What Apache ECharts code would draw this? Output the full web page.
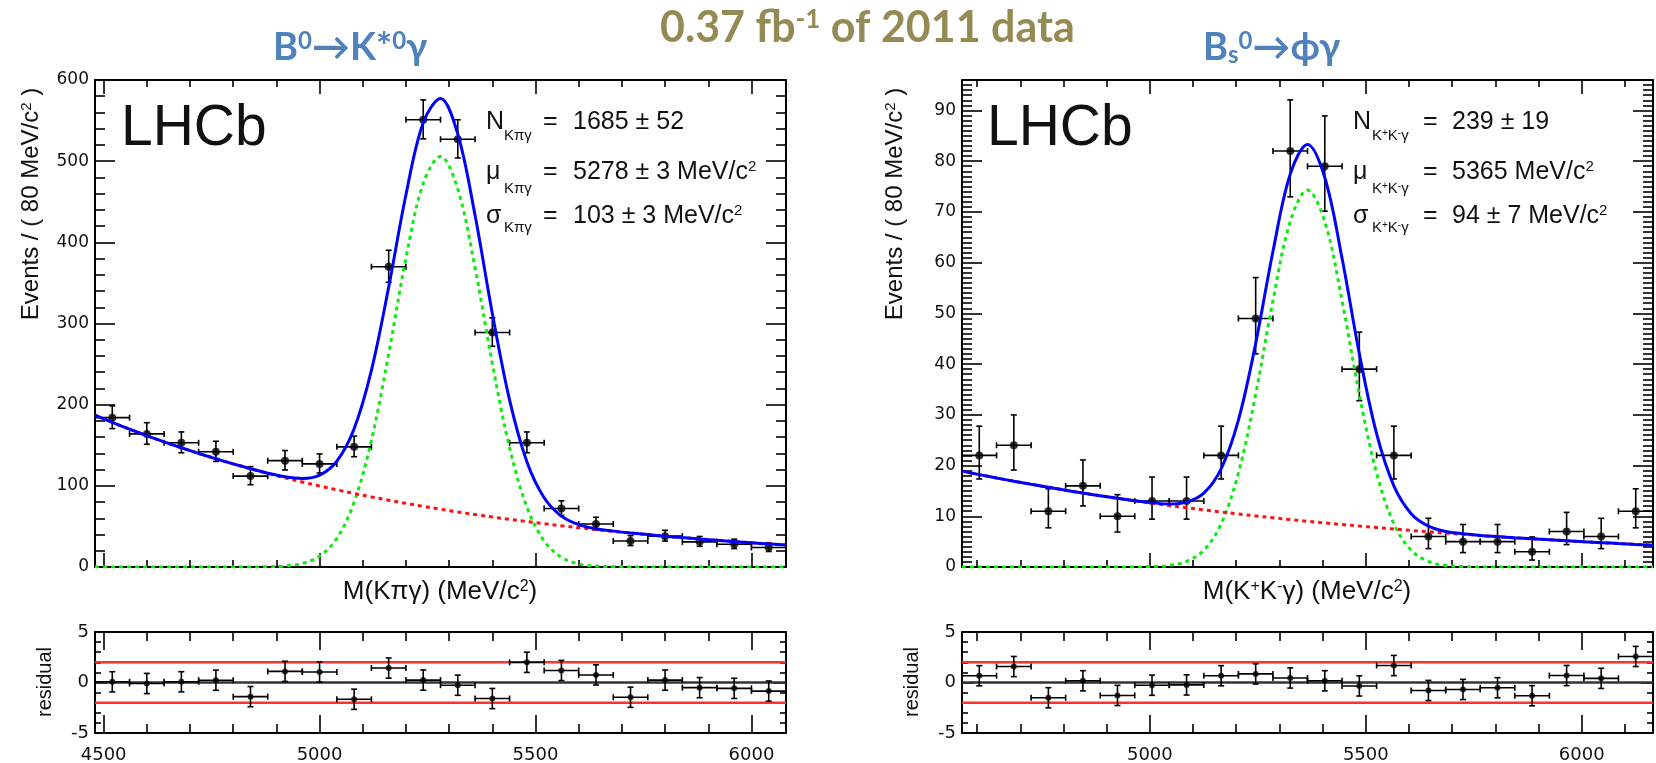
<!DOCTYPE html>
<html>
<head>
<meta charset="utf-8">
<script src="https://cdn.jsdelivr.net/npm/echarts@6/dist/echarts.min.js"></script>
<style>
html,body{margin:0;padding:0;background:#ffffff;}
#chart{width:1656px;height:763px;}
</style>
</head>
<body>
<div id="chart"></div>
<script>
// ---------------- DATA ----------------
// Left panel: B0 -> K*0 gamma, 80 MeV bins
const leftBinCenters = [4520,4600,4680,4760,4840,4920,5000,5080,5160,5240,5320,5400,5480,5560,5640,5720,5800,5880,5960,6040];
const leftCounts     = [184,164,153,142,112,131,127,148,370,551,527,289,153,72,53,32,38,31,28,24];
const leftErrLow     = [13.5,12.8,12.3,11.9,10.6,11.4,11.2,12.1,19.2,23.5,23.0,17.0,12.3,8.5,7.3,5.6,6.1,5.5,5.3,4.9];
const leftErrHigh    = [14.6,13.8,13.4,12.9,11.6,12.5,12.3,13.2,20.2,24.5,24.0,18.0,13.4,9.5,8.3,6.7,7.2,6.6,6.3,5.9];
const leftResiduals  = [0.07,-0.10,0.07,0.23,-1.40,1.10,1.04,-1.66,1.43,0.24,-0.27,-1.59,2.00,1.19,0.75,-1.46,0.24,-0.51,-0.58,-0.85];

const leftCurveX = [4480,4520,4560,4600,4640,4680,4720,4760,4800,4840,4880,4920,4960,5000,5040,5080,5120,5160,5200,5240,5280,5320,5360,5400,5440,5480,5520,5560,5600,5640,5680,5720,5760,5800,5840,5880,5920,5960,6000,6040,6080];
const leftTotalFit = [187.0,178.2,169.8,161.8,154.1,146.9,139.9,133.3,127.1,121.2,115.6,111.1,109.0,113.1,130.3,170.3,242.3,344.8,458.7,547.4,577.1,533.4,433.3,312.4,205.6,129.8,85.4,62.7,52.2,47.2,44.2,41.9,39.9,38.0,36.2,34.5,32.9,31.3,29.8,28.4,27.1];
const leftSignal   = [0,0,0,0,0,0,0,0,0,0.1,0.3,1.2,4.3,13.3,35.2,79.7,156.0,262.5,380.3,472.7,505.9,465.6,368.7,250.8,146.9,73.9,32.1,11.9,3.8,1.1,0.3,0.1,0,0,0,0,0,0,0,0,0];
const leftBackground = [187.0,178.2,169.8,161.8,154.1,146.9,139.9,133.3,127.1,121.1,115.3,109.9,104.7,99.8,95.1,90.6,86.3,82.3,78.4,74.7,71.2,67.8,64.6,61.6,58.7,55.9,53.3,50.8,48.4,46.1,43.9,41.8,39.9,38.0,36.2,34.5,32.9,31.3,29.8,28.4,27.1];

// Right panel: Bs0 -> phi gamma, 80 MeV bins
const rightBinCenters = [4605,4685,4765,4845,4925,5005,5085,5165,5245,5325,5405,5485,5565,5645,5725,5805,5885,5965,6045,6125];
const rightCounts     = [22,24,11,16,10,13,13,22,49,82,79,39,22,6,5,5,3,7,6,11];
const rightErrLow     = [4.65,4.88,3.28,3.96,3.11,3.56,3.56,4.65,6.98,9.03,8.86,6.22,4.65,2.38,2.16,2.16,1.63,2.58,2.38,3.28];
const rightErrHigh    = [5.76,5.98,4.42,5.10,4.26,4.73,4.73,5.76,8.05,10.08,9.92,7.30,5.76,3.60,3.38,3.38,2.92,3.77,3.60,4.42];
const rightResiduals  = [0.67,1.58,-1.51,0.17,-1.28,-0.27,-0.24,0.67,0.85,0.45,0.17,-0.34,1.68,-0.79,-0.69,-0.52,-1.31,0.69,0.41,2.58];

const rightCurveX = [4565,4605,4645,4685,4725,4765,4805,4845,4885,4925,4965,5005,5045,5085,5125,5165,5205,5245,5285,5325,5365,5405,5445,5485,5525,5565,5605,5645,5685,5725,5765,5805,5845,5885,5925,5965,6005,6045,6085,6125,6165];
const rightTotalFit = [18.90,18.21,17.55,16.91,16.30,15.71,15.13,14.58,14.05,13.54,13.05,12.68,12.42,12.78,14.55,19.34,28.95,44.07,62.20,77.45,83.31,76.78,60.87,42.06,26.27,15.99,10.51,8.05,7.00,6.55,6.22,5.99,5.77,5.56,5.36,5.17,4.98,4.80,4.62,4.45,4.29];
const rightSignal   = [0,0,0,0,0,0,0,0,0,0,0,0.1,0.3,1.1,3.3,8.5,18.5,34.0,52.5,68.1,74.3,68.1,52.5,34.0,18.5,8.5,3.3,1.1,0.3,0.1,0,0,0,0,0,0,0,0,0,0,0];
const rightBackground = [18.90,18.21,17.55,16.91,16.30,15.71,15.13,14.58,14.05,13.54,13.05,12.58,12.12,11.68,11.25,10.84,10.45,10.07,9.70,9.35,9.01,8.68,8.37,8.06,7.77,7.49,7.21,6.95,6.70,6.45,6.22,5.99,5.77,5.56,5.36,5.17,4.98,4.80,4.62,4.45,4.29];

// axis ranges and tick labels
const leftMassRange  = [4480, 6080];
const rightMassRange = [4565, 6165];
const massTickLabels = [4500, 5000, 5500, 6000];
const leftCountTicks  = [0,100,200,300,400,500,600];
const rightCountTicks = [0,10,20,30,40,50,60,70,80,90];
const pullTicks = [-5, 0, 5];
const pullBandLevels = [2, -2];
const pullZeroLevel = 0;
const binHalfWidth = 40;   // half of the 80 MeV bin
const pullError = 1;       // residuals are in units of sigma

// ---------------- helpers ----------------
const TICK_FONT = '"DejaVu Sans", sans-serif';
const ROOT_FONT = '"Liberation Sans", Arial, sans-serif';
const zip = (xs, ys) => xs.map((x, i) => [x, ys[i]]);

function massAxis(gridIndex, range, position, showLabels, tickLen, minorLen) {
  return {
    type: 'value', gridIndex, position, min: range[0], max: range[1],
    splitNumber: 3, minInterval: 500, maxInterval: 500,
    axisLine: { show: true, onZero: false, lineStyle: { color: '#000', width: 2 } },
    axisTick: { show: true, inside: true, length: tickLen, lineStyle: { color: '#000', width: 1.6 } },
    minorTick: { show: true, splitNumber: 5, length: minorLen, lineStyle: { color: '#000', width: 1.6 } },
    splitLine: { show: false }, minorSplitLine: { show: false },
    axisLabel: { show: showLabels, margin: 13, fontFamily: TICK_FONT, fontSize: 18, color: '#111',
      formatter: v => massTickLabels.includes(v) ? String(v) : '' }
  };
}
function countAxis(gridIndex, min, max, interval, minorSplit, position, showLabels, labels, tickLen, minorLen, fontSize) {
  return {
    type: 'value', gridIndex, position, min, max, interval,
    axisLine: { show: true, onZero: false, lineStyle: { color: '#000', width: 2 } },
    axisTick: { show: true, inside: true, length: tickLen, lineStyle: { color: '#000', width: 1.6 } },
    minorTick: { show: true, splitNumber: minorSplit, length: minorLen, lineStyle: { color: '#000', width: 1.6 } },
    splitLine: { show: false }, minorSplitLine: { show: false },
    axisLabel: { show: showLabels, margin: 6, fontFamily: TICK_FONT, fontSize: fontSize, color: '#111',
      formatter: v => labels.includes(v) ? String(v) : '' }
  };
}
function errorBars(xIdx, yIdx, xs, ys, lows, highs, cap, lw) {
  return {
    type: 'custom', xAxisIndex: xIdx, yAxisIndex: yIdx, z: 2, silent: true,
    data: xs.map((x, i) => [x, ys[i], lows[i], highs[i]]),
    encode: { x: 0, y: 1 },
    renderItem: (params, api) => {
      const x = api.value(0), y = api.value(1), lo = api.value(2), hi = api.value(3);
      const c = api.coord([x, y]);
      const t = api.coord([x, y + hi]);
      const b = api.coord([x, y - lo]);
      const l = api.coord([x - binHalfWidth, y]);
      const r = api.coord([x + binHalfWidth, y]);
      const st = { stroke: '#000', lineWidth: lw };
      return { type: 'group', children: [
        { type: 'line', shape: { x1: c[0], y1: t[1], x2: c[0], y2: b[1] }, style: st },
        { type: 'line', shape: { x1: c[0] - cap, y1: t[1], x2: c[0] + cap, y2: t[1] }, style: st },
        { type: 'line', shape: { x1: c[0] - cap, y1: b[1], x2: c[0] + cap, y2: b[1] }, style: st },
        { type: 'line', shape: { x1: l[0], y1: c[1], x2: r[0], y2: c[1] }, style: st },
        { type: 'line', shape: { x1: l[0], y1: c[1] - cap, x2: l[0], y2: c[1] + cap }, style: st },
        { type: 'line', shape: { x1: r[0], y1: c[1] - cap, x2: r[0], y2: c[1] + cap }, style: st }
      ]};
    }
  };
}
function points(xIdx, yIdx, xs, ys, size) {
  return { type: 'scatter', xAxisIndex: xIdx, yAxisIndex: yIdx, z: 3, silent: true,
    data: zip(xs, ys), symbol: 'circle', symbolSize: size, itemStyle: { color: '#000' } };
}
function curve(xIdx, yIdx, xs, ys, color, dash, z) {
  return { type: 'line', xAxisIndex: xIdx, yAxisIndex: yIdx, z: z, silent: true,
    data: zip(xs, ys), showSymbol: false, smooth: 0.35, clip: true,
    lineStyle: { color: color, width: 3, type: dash } };
}
function hline(xIdx, yIdx, range, level, color, width) {
  return { type: 'line', xAxisIndex: xIdx, yAxisIndex: yIdx, z: 1, silent: true,
    data: [[range[0], level], [range[1], level]], showSymbol: false,
    lineStyle: { color: color, width: width } };
}

// ---------------- text helpers ----------------
function txt(x, y, text, font, extra) {
  return Object.assign({ type: 'text', x: x, y: y, silent: true,
    style: Object.assign({ text: text, font: font, fill: '#111', align: 'left', verticalAlign: 'middle' }, (extra && extra.style) || {}) },
    extra && extra.rotation ? { rotation: extra.rotation } : {});
}
function supRich(size, family, weight, color) {
  const f = (weight ? weight + ' ' : '') + size + 'px ' + family;
  return {
    sup: { font: f, fill: color, color: color, verticalAlign: 'top', lineHeight: size },
    sub: { font: f, fill: color, color: color, verticalAlign: 'bottom', lineHeight: size }
  };
}
const TITLE_FONT = 'Lato, "DejaVu Sans", sans-serif';
const blue = '#4F81BD';
const olive = '#948A54';

const graphics = [
  // page titles
  txt(273, 48, 'B{sup|0}→K*{sup|0}γ', 'bold 38px ' + TITLE_FONT,
      { style: { fill: blue, rich: supRich(24, TITLE_FONT, 'bold', blue) } }),
  txt(660, 28, '0.37 fb{sup|-1} of 2011 data', 'bold 43px ' + TITLE_FONT,
      { style: { fill: olive, rich: supRich(26, TITLE_FONT, 'bold', olive) } }),
  txt(1203, 48, 'B{sub|s}{sup|0}→ϕγ', 'bold 38px ' + TITLE_FONT,
      { style: { fill: blue, rich: supRich(24, TITLE_FONT, 'bold', blue) } }),
  // LHCb labels
  txt(121, 129, 'LHCb', '57px ' + ROOT_FONT),
  txt(987, 129, 'LHCb', '57px ' + ROOT_FONT),
  // y-axis titles
  txt(31, 204, 'Events / ( 80 MeV/c{sup|2} )', '24px ' + ROOT_FONT,
      { rotation: Math.PI / 2, style: { align: 'center', rich: supRich(15, ROOT_FONT, '', '#111') } }),
  txt(895, 204, 'Events / ( 80 MeV/c{sup|2} )', '24px ' + ROOT_FONT,
      { rotation: Math.PI / 2, style: { align: 'center', rich: supRich(15, ROOT_FONT, '', '#111') } }),
  // x-axis titles
  txt(440, 592, 'M(Kπγ) (MeV/c{sup|2})', '26px ' + ROOT_FONT,
      { style: { align: 'center', rich: supRich(16, ROOT_FONT, '', '#111') } }),
  txt(1307, 592, 'M(K{sup|+}K{sup|-}γ) (MeV/c{sup|2})', '26px ' + ROOT_FONT,
      { style: { align: 'center', rich: supRich(16, ROOT_FONT, '', '#111') } }),
  // residual labels
  txt(45, 682, 'residual', '20px ' + ROOT_FONT, { rotation: Math.PI / 2, style: { align: 'center' } }),
  txt(912, 682, 'residual', '20px ' + ROOT_FONT, { rotation: Math.PI / 2, style: { align: 'center' } })
];

// fit-parameter boxes
function paramRows(xSym, xSub, xEq, xVal, subText, values) {
  const syms = ['N', 'μ', 'σ'];
  const yMain = [122, 172, 216];
  const ySub = [136, 189, 228];
  const out = [];
  for (let i = 0; i < 3; i++) {
    out.push(txt(xSym, yMain[i], syms[i], '25px ' + ROOT_FONT));
    out.push(txt(xSub, ySub[i], subText, '15px ' + ROOT_FONT, { style: { rich: supRich(10, ROOT_FONT, '', '#111') } }));
    out.push(txt(xEq, yMain[i], '=', '25px ' + ROOT_FONT));
    out.push(txt(xVal, yMain[i], values[i], '25px ' + ROOT_FONT, { style: { rich: supRich(15, ROOT_FONT, '', '#111') } }));
  }
  return out;
}
const leftParams  = ['1685 ± 52', '5278 ± 3 MeV/c{sup|2}', '103 ± 3 MeV/c{sup|2}'];
const rightParams = ['239 ± 19', '5365 MeV/c{sup|2}', '94 ± 7 MeV/c{sup|2}'];
graphics.push(...paramRows(486, 504, 543, 573, 'Kπγ', leftParams));
graphics.push(...paramRows(1353, 1372, 1423, 1452, 'K{sup|+}K{sup|-}γ', rightParams));

// ---------------- chart ----------------
const chart = echarts.init(document.getElementById('chart'), null, { renderer: 'canvas' });
const option = {
  animation: false,
  backgroundColor: '#ffffff',
  grid: [
    { left: 95,  top: 80,  width: 691, height: 487, containLabel: false, outerBoundsMode: 'none' },
    { left: 962, top: 80,  width: 691, height: 487, containLabel: false, outerBoundsMode: 'none' },
    { left: 95,  top: 632, width: 691, height: 101, containLabel: false, outerBoundsMode: 'none' },
    { left: 962, top: 632, width: 691, height: 101, containLabel: false, outerBoundsMode: 'none' }
  ],
  xAxis: [
    massAxis(0, leftMassRange, 'bottom', false, 14, 7),
    massAxis(0, leftMassRange, 'top', false, 14, 7),
    massAxis(1, rightMassRange, 'bottom', false, 14, 7),
    massAxis(1, rightMassRange, 'top', false, 14, 7),
    massAxis(2, leftMassRange, 'bottom', true, 18, 9),
    massAxis(2, leftMassRange, 'top', false, 18, 9),
    massAxis(3, rightMassRange, 'bottom', true, 18, 9),
    massAxis(3, rightMassRange, 'top', false, 18, 9)
  ],
  yAxis: [
    countAxis(0, 0, 600, 100, 5, 'left', true, leftCountTicks, 20, 10, 17),
    countAxis(0, 0, 600, 100, 5, 'right', false, leftCountTicks, 20, 10, 17),
    countAxis(1, 0, 96, 10, 10, 'left', true, rightCountTicks, 20, 10, 17),
    countAxis(1, 0, 96, 10, 10, 'right', false, rightCountTicks, 20, 10, 17),
    countAxis(2, -5, 5, 5, 5, 'left', true, pullTicks, 12, 6, 18),
    countAxis(2, -5, 5, 5, 5, 'right', false, pullTicks, 12, 6, 18),
    countAxis(3, -5, 5, 5, 5, 'left', true, pullTicks, 12, 6, 18),
    countAxis(3, -5, 5, 5, 5, 'right', false, pullTicks, 12, 6, 18)
  ],
  series: [
    // left main
    errorBars(0, 0, leftBinCenters, leftCounts, leftErrLow, leftErrHigh, 3, 1.6),
    points(0, 0, leftBinCenters, leftCounts, 8),
    curve(0, 0, leftCurveX, leftSignal, '#12e812', [4, 4], 4),
    curve(0, 0, leftCurveX, leftBackground, '#ff1010', [4, 4], 4),
    curve(0, 0, leftCurveX, leftTotalFit, '#0000ff', 'solid', 5),
    // right main
    errorBars(2, 2, rightBinCenters, rightCounts, rightErrLow, rightErrHigh, 3, 1.6),
    points(2, 2, rightBinCenters, rightCounts, 8),
    curve(2, 2, rightCurveX, rightSignal, '#12e812', [4, 4], 4),
    curve(2, 2, rightCurveX, rightBackground, '#ff1010', [4, 4], 4),
    curve(2, 2, rightCurveX, rightTotalFit, '#0000ff', 'solid', 5),
    // left residuals
    hline(4, 4, leftMassRange, pullBandLevels[0], '#ff3030', 2.5),
    hline(4, 4, leftMassRange, pullBandLevels[1], '#ff3030', 2.5),
    hline(4, 4, leftMassRange, pullZeroLevel, '#333333', 2.5),
    errorBars(4, 4, leftBinCenters, leftResiduals, leftResiduals.map(() => pullError), leftResiduals.map(() => pullError), 3, 1.6),
    points(4, 4, leftBinCenters, leftResiduals, 6),
    // right residuals
    hline(6, 6, rightMassRange, pullBandLevels[0], '#ff3030', 2.5),
    hline(6, 6, rightMassRange, pullBandLevels[1], '#ff3030', 2.5),
    hline(6, 6, rightMassRange, pullZeroLevel, '#333333', 2.5),
    errorBars(6, 6, rightBinCenters, rightResiduals, rightResiduals.map(() => pullError), rightResiduals.map(() => pullError), 3, 1.6),
    points(6, 6, rightBinCenters, rightResiduals, 6)
  ],
  graphic: { elements: graphics }
};
chart.setOption(option);
</script>
</body>
</html>
